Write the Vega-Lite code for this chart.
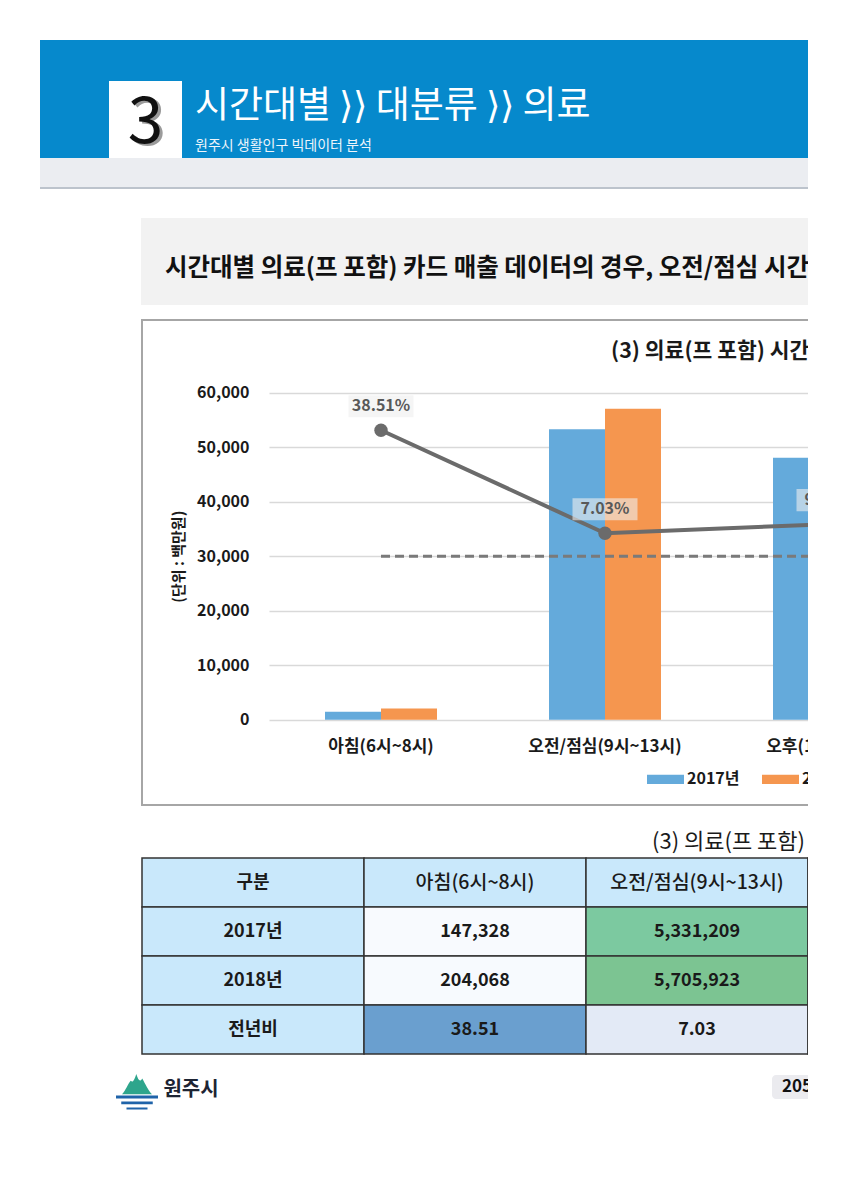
{
  "$schema": "https://vega.github.io/schema/vega-lite/v6.json",
  "autosize": {"type": "none"},
  "padding": {"left": 40, "top": 40, "right": 768, "bottom": 1160},
  "background": "#ffffff",
  "config": {
    "view": {"stroke": null},
    "font": "Noto Sans CJK KR",
    "concat": {"spacing": 0},
    "axis": {"labelFont": "Noto Sans CJK KR", "titleFont": "Noto Sans CJK KR"},
    "legend": {"labelFont": "Noto Sans CJK KR"},
    "title": {"font": "Noto Sans CJK KR"}
  },
  "datasets": {
    "sales": [
      {"cat": "아침(6시~8시)", "year": "2017년", "amount": 147328},
      {"cat": "아침(6시~8시)", "year": "2018년", "amount": 204068},
      {"cat": "오전/점심(9시~13시)", "year": "2017년", "amount": 5331209},
      {"cat": "오전/점심(9시~13시)", "year": "2018년", "amount": 5705923},
      {"cat": "오후(14시~17시)", "year": "2017년", "amount": 4807000},
      {"cat": "오후(14시~17시)", "year": "2018년", "amount": 5278000}
    ],
    "ratio": [
      {"cat": "아침(6시~8시)", "ratio": 38.51},
      {"cat": "오전/점심(9시~13시)", "ratio": 7.03},
      {"cat": "오후(14시~17시)", "ratio": 9.8}
    ],
    "rows": [
      {"row": "구분"},
      {"row": "2017년"},
      {"row": "2018년"},
      {"row": "전년비"}
    ]
  },
  "spacing": 0,
  "vconcat": [
    {
      "spacing": 0,
      "hconcat": [
        {"width": 69, "height": 118, "view": {"fill": "#0689cc"}, "data": {"values": [{}]}, "mark": {"type": "text", "text": " ", "fontSize": 1}},
        {
          "spacing": 0,
          "vconcat": [
            {"width": 73, "height": 41, "view": {"fill": "#0689cc"}, "data": {"values": [{}]}, "mark": {"type": "text", "text": " ", "fontSize": 1}},
            {
              "width": 73, "height": 77, "view": {"fill": "#ffffff"}, "data": {"values": [{}]},
              "layer": [
                {"mark": {"type": "text", "text": "3", "fontSize": 64, "color": "#9b9b9b", "dx": 3, "dy": 6}},
                {"mark": {"type": "text", "text": "3", "fontSize": 64, "color": "#111111", "dy": 4}}
              ]
            }
          ]
        },
        {
          "width": 626, "height": 118, "view": {"fill": "#0689cc"}, "data": {"values": [{}]},
          "layer": [
            {"mark": {"type": "text", "text": "시간대별 ⟩⟩ 대분류 ⟩⟩ 의료", "align": "left", "baseline": "alphabetic", "dx": -300, "dy": 19, "fontSize": 37, "color": "#ffffff"}},
            {"mark": {"type": "text", "text": "원주시 생활인구 빅데이터 분석", "align": "left", "baseline": "alphabetic", "dx": -300, "dy": 51, "fontSize": 14, "color": "#eef5fb"}}
          ]
        }
      ]
    },
    {"width": 768, "height": 29, "view": {"fill": "#ebedf1"}, "data": {"values": [{}]}, "mark": {"type": "text", "text": " ", "fontSize": 1}},
    {"width": 768, "height": 2, "view": {"fill": "#bcc3cc"}, "data": {"values": [{}]}, "mark": {"type": "text", "text": " ", "fontSize": 1}},
    {"width": 768, "height": 29, "view": {"fill": "#ffffff"}, "data": {"values": [{}]}, "mark": {"type": "text", "text": " ", "fontSize": 1}},
    {
      "spacing": 0,
      "hconcat": [
        {"width": 101, "height": 87, "view": {"fill": "#ffffff"}, "data": {"values": [{}]}, "mark": {"type": "text", "text": " ", "fontSize": 1}},
        {
          "width": 667, "height": 87, "view": {"fill": "#f2f2f2"}, "data": {"values": [{}]},
          "mark": {"type": "text", "text": "시간대별 의료(프 포함) 카드 매출 데이터의 경우, 오전/점심 시간대에 가장 높은 매출을 보임", "align": "left", "baseline": "alphabetic", "dx": -309.5, "dy": 14.5, "fontSize": 24.5, "fontWeight": "bold", "color": "#111111"}
        }
      ]
    },
    {"width": 768, "height": 14, "view": {"fill": "#ffffff"}, "data": {"values": [{}]}, "mark": {"type": "text", "text": " ", "fontSize": 1}},
    {
      "spacing": 0,
      "hconcat": [
        {"width": 101, "height": 485, "view": {"fill": "#ffffff"}, "data": {"values": [{}]}, "mark": {"type": "text", "text": " ", "fontSize": 1}},
        {
          "width": 800, "height": 485,
          "view": {"fill": "#ffffff", "stroke": "#a6a6a6", "strokeWidth": 2},
          "title": {"text": "(3) 의료(프 포함) 시간대별 카드 매출", "anchor": "start", "frame": "group", "dx": 469, "offset": -59, "baseline": "alphabetic", "fontSize": 21.5, "fontWeight": "bold", "color": "#1a1a1a"},
          "resolve": {"scale": {"y": "independent"}, "axis": {"y": "independent"}},
          "layer": [
            {
              "data": {"name": "sales"},
              "mark": {"type": "bar"},
              "encoding": {
                "x": {
                  "field": "cat", "type": "nominal", "sort": null,
                  "scale": {"domain": ["아침(6시~8시)", "오전/점심(9시~13시)", "오후(14시~17시)"], "range": [127, 799], "paddingInner": 0, "paddingOuter": 0},
                  "axis": {"orient": "bottom", "offset": -85.3, "title": null, "domain": false, "ticks": false, "grid": false, "labelAngle": 0, "labelPadding": 19, "labelFontSize": 17, "labelFontWeight": "bold", "labelColor": "#1a1a1a", "labelLimit": 300}
                },
                "xOffset": {"field": "year", "type": "nominal", "scale": {"domain": ["2017년", "2018년"], "paddingInner": 0, "paddingOuter": 1.1}},
                "y": {
                  "field": "amount", "type": "quantitative",
                  "scale": {"domain": [0, 6000000], "range": [399.7, 72.7], "nice": false},
                  "axis": {"orient": "left", "offset": -112, "values": [0, 1000000, 2000000, 3000000, 4000000, 5000000, 6000000], "labelExpr": "format(datum.value / 100, ',')", "domain": false, "ticks": false, "tickSize": 0, "grid": true, "gridColor": "#d9d9d9", "gridWidth": 1.5, "labelPadding": 5, "labelFontSize": 16, "labelFontWeight": "bold", "labelColor": "#1a1a1a", "title": "(단위 : 백만원)", "titleFontSize": 15, "titleFontWeight": "bold", "titleColor": "#1a1a1a", "titlePadding": 10}
                },
                "color": {
                  "field": "year", "type": "nominal",
                  "scale": {"domain": ["2017년", "2018년"], "range": ["#64aadb", "#f5964f"]},
                  "legend": {"orient": "none", "legendX": 607, "legendY": 440.5, "direction": "horizontal", "title": null, "symbolType": "M-1,-0.25H1V0.25H-1Z", "symbolSize": 1369, "symbolStrokeWidth": 0, "labelFontSize": 16, "labelFontWeight": "bold", "labelColor": "#1a1a1a", "labelOffset": 3, "columnPadding": 22, "padding": 0}
                }
              }
            },
            {
              "data": {"name": "ratio"},
              "transform": [{"calculate": "format(datum.ratio, '.2f') + '%'", "as": "label"}],
              "encoding": {
                "x": {"field": "cat", "type": "nominal", "sort": null},
                "y": {"field": "ratio", "type": "quantitative", "scale": {"domain": [-50, 50], "range": [399.7, 72.7], "nice": false, "zero": false}, "axis": null}
              },
              "layer": [
                {"mark": {"type": "line", "color": "#7a7a7a", "strokeWidth": 3, "strokeDash": [9, 5]}, "encoding": {"y": {"datum": 0, "type": "quantitative"}}},
                {"mark": {"type": "line", "color": "#6b6b6b", "strokeWidth": 4}},
                {"mark": {"type": "point", "filled": true, "shape": "circle", "size": 180, "color": "#6b6b6b", "opacity": 1}},
                {"mark": {"type": "point", "filled": true, "shape": "M-1,-0.34H1V0.34H-1Z", "size": 4225, "color": "#eeeeee", "opacity": 0.6, "yOffset": -24}},
                {"mark": {"type": "text", "dy": -24, "fontSize": 16, "fontWeight": "bold", "color": "#595959"}, "encoding": {"text": {"field": "label", "type": "nominal"}}}
              ]
            }
          ]
        }
      ]
    },
    {
      "spacing": 0,
      "hconcat": [
        {"width": 101, "height": 51, "view": {"fill": "#ffffff"}, "data": {"values": [{}]}, "mark": {"type": "text", "text": " ", "fontSize": 1}},
        {
          "width": 667, "height": 51, "view": {"fill": "#ffffff"}, "data": {"values": [{}]},
          "mark": {"type": "text", "text": "(3) 의료(프 포함) 시간대별 카드 매출 (단위 : 만원)", "align": "left", "baseline": "alphabetic", "dx": 177.5, "dy": 17.5, "fontSize": 22, "color": "#1a1a1a"}
        }
      ]
    },
    {
      "spacing": 0,
      "hconcat": [
        {"width": 101, "height": 196, "view": {"fill": "#ffffff"}, "data": {"values": [{}]}, "mark": {"type": "text", "text": " ", "fontSize": 1}},
        {
          "width": 888, "height": 196,
          "layer": [
            {
              "data": {"name": "rows"},
              "mark": {"type": "rect", "fill": "#c9e8fb", "stroke": "#333333", "strokeWidth": 1.5},
              "encoding": {
                "x": {"datum": "구분", "type": "nominal", "scale": {"domain": ["구분", "아침(6시~8시)", "오전/점심(9시~13시)", "오후(14시~17시)"], "paddingInner": 0, "paddingOuter": 0}, "axis": null},
                "y": {"field": "row", "type": "nominal", "scale": {"domain": ["구분", "2017년", "2018년", "전년비"], "paddingInner": 0, "paddingOuter": 0}, "axis": null}
              }
            },
            {
              "data": {"name": "ratio"},
              "mark": {"type": "rect", "fill": "#c9e8fb", "stroke": "#333333", "strokeWidth": 1.5},
              "encoding": {
                "x": {"field": "cat", "type": "nominal", "scale": {"domain": ["구분", "아침(6시~8시)", "오전/점심(9시~13시)", "오후(14시~17시)"], "paddingInner": 0, "paddingOuter": 0}, "axis": null},
                "y": {"datum": "구분", "type": "nominal", "scale": {"domain": ["구분", "2017년", "2018년", "전년비"], "paddingInner": 0, "paddingOuter": 0}, "axis": null}
              }
            },
            {
              "data": {"name": "sales"},
              "mark": {"type": "rect", "stroke": "#333333", "strokeWidth": 1.5},
              "encoding": {
                "x": {"field": "cat", "type": "nominal", "scale": {"domain": ["구분", "아침(6시~8시)", "오전/점심(9시~13시)", "오후(14시~17시)"], "paddingInner": 0, "paddingOuter": 0}, "axis": null},
                "y": {"field": "year", "type": "nominal", "scale": {"domain": ["구분", "2017년", "2018년", "전년비"], "paddingInner": 0, "paddingOuter": 0}, "axis": null},
                "fill": {"field": "amount", "type": "quantitative", "scale": {"domain": [0, 5705923], "range": ["#fbfcfe", "#7cc492"]}, "legend": null}
              }
            },
            {
              "data": {"name": "ratio"},
              "mark": {"type": "rect", "stroke": "#333333", "strokeWidth": 1.5},
              "encoding": {
                "x": {"field": "cat", "type": "nominal", "scale": {"domain": ["구분", "아침(6시~8시)", "오전/점심(9시~13시)", "오후(14시~17시)"], "paddingInner": 0, "paddingOuter": 0}, "axis": null},
                "y": {"datum": "전년비", "type": "nominal", "scale": {"domain": ["구분", "2017년", "2018년", "전년비"], "paddingInner": 0, "paddingOuter": 0}, "axis": null},
                "color": {"field": "ratio", "type": "quantitative", "scale": {"domain": [0, 38.51], "range": ["#fbfcfe", "#6a9fcf"]}, "legend": null}
              }
            },
            {
              "data": {"name": "rows"},
              "mark": {"type": "text", "fontSize": 18, "fontWeight": "bold", "color": "#1a1a1a"},
              "encoding": {
                "x": {"datum": "구분", "type": "nominal", "scale": {"domain": ["구분", "아침(6시~8시)", "오전/점심(9시~13시)", "오후(14시~17시)"], "paddingInner": 0, "paddingOuter": 0}, "axis": null},
                "y": {"field": "row", "type": "nominal", "scale": {"domain": ["구분", "2017년", "2018년", "전년비"], "paddingInner": 0, "paddingOuter": 0}, "axis": null},
                "text": {"field": "row", "type": "nominal"}
              }
            },
            {
              "data": {"name": "ratio"},
              "mark": {"type": "text", "fontSize": 19.5, "fontWeight": 500, "color": "#1a1a1a"},
              "encoding": {
                "x": {"field": "cat", "type": "nominal", "scale": {"domain": ["구분", "아침(6시~8시)", "오전/점심(9시~13시)", "오후(14시~17시)"], "paddingInner": 0, "paddingOuter": 0}, "axis": null},
                "y": {"datum": "구분", "type": "nominal", "scale": {"domain": ["구분", "2017년", "2018년", "전년비"], "paddingInner": 0, "paddingOuter": 0}, "axis": null},
                "text": {"field": "cat", "type": "nominal"}
              }
            },
            {
              "data": {"name": "sales"},
              "mark": {"type": "text", "fontSize": 18, "fontWeight": "bold", "color": "#1a1a1a"},
              "encoding": {
                "x": {"field": "cat", "type": "nominal", "scale": {"domain": ["구분", "아침(6시~8시)", "오전/점심(9시~13시)", "오후(14시~17시)"], "paddingInner": 0, "paddingOuter": 0}, "axis": null},
                "y": {"field": "year", "type": "nominal", "scale": {"domain": ["구분", "2017년", "2018년", "전년비"], "paddingInner": 0, "paddingOuter": 0}, "axis": null},
                "text": {"field": "amount", "type": "quantitative", "format": ","}
              }
            },
            {
              "data": {"name": "ratio"},
              "mark": {"type": "text", "fontSize": 18, "fontWeight": "bold", "color": "#1a1a1a"},
              "encoding": {
                "x": {"field": "cat", "type": "nominal", "scale": {"domain": ["구분", "아침(6시~8시)", "오전/점심(9시~13시)", "오후(14시~17시)"], "paddingInner": 0, "paddingOuter": 0}, "axis": null},
                "y": {"datum": "전년비", "type": "nominal", "scale": {"domain": ["구분", "2017년", "2018년", "전년비"], "paddingInner": 0, "paddingOuter": 0}, "axis": null},
                "text": {"field": "ratio", "type": "quantitative", "format": ".2f"}
              }
            }
          ]
        }
      ]
    },
    {"width": 768, "height": 16, "view": {"fill": "#ffffff"}, "data": {"values": [{}]}, "mark": {"type": "text", "text": " ", "fontSize": 1}},
    {
      "spacing": 0,
      "hconcat": [
        {"width": 75, "height": 36, "view": {"fill": "#ffffff"}, "data": {"values": [{}]}, "mark": {"type": "text", "text": " ", "fontSize": 1}},
        {
          "width": 44, "height": 36, "view": {"fill": "#ffffff"}, "data": {"values": [{}]},
          "layer": [
            {"mark": {"type": "point", "filled": true, "shape": "M-1,0.35 C-0.75,0.1 -0.6,-0.35 -0.42,-0.55 C-0.3,-0.42 -0.2,-0.5 -0.05,-1 C0.1,-0.55 0.2,-0.45 0.35,-0.7 C0.55,-0.35 0.75,0.1 1,0.35 Z", "size": 900, "color": "#2ea58c", "opacity": 1}},
            {"mark": {"type": "point", "filled": true, "shape": "M-1,-0.07H1V0.07H-1Z M-0.75,0.22H0.75V0.34H-0.75Z M-0.5,0.5H0.5V0.6H-0.5Z", "size": 1764, "color": "#1f63a9", "opacity": 1, "yOffset": 8}}
          ]
        },
        {"width": 64, "height": 36, "view": {"fill": "#ffffff"}, "data": {"values": [{}]}, "mark": {"type": "text", "text": "원주시", "fontSize": 20, "fontWeight": "bold", "color": "#1d2433", "dy": 1}},
        {"width": 549, "height": 36, "view": {"fill": "#ffffff"}, "data": {"values": [{}]}, "mark": {"type": "text", "text": " ", "fontSize": 1}},
        {
          "spacing": 0,
          "vconcat": [
            {"width": 50, "height": 4, "view": {"fill": "#ffffff"}, "data": {"values": [{}]}, "mark": {"type": "text", "text": " ", "fontSize": 1}},
            {"width": 50, "height": 24, "view": {"fill": "#ebebef", "cornerRadius": 4}, "data": {"values": [{}]}, "mark": {"type": "text", "text": "205", "align": "left", "dx": -15, "fontSize": 17, "fontWeight": "bold", "color": "#111111"}}
          ]
        }
      ]
    }
  ]
}
